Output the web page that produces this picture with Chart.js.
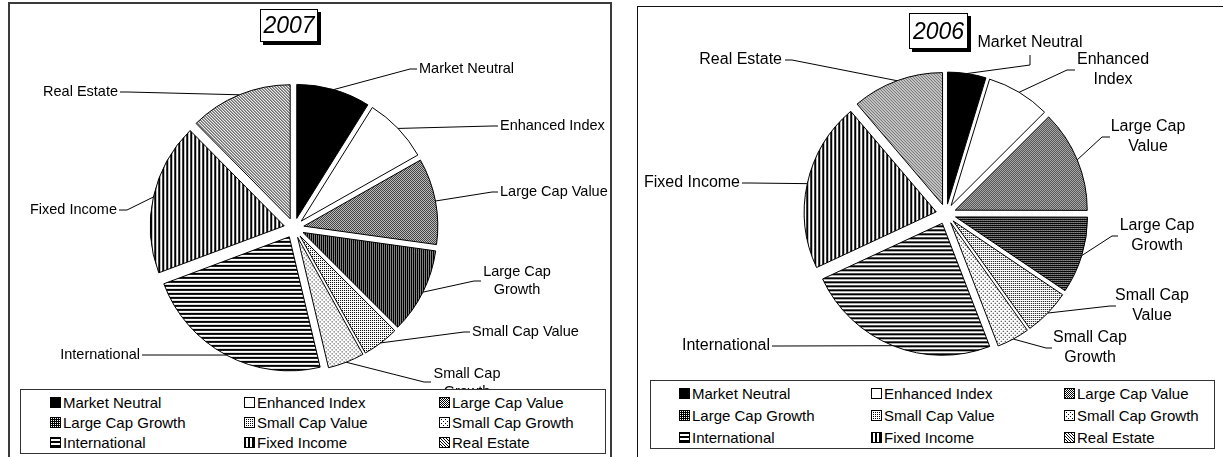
<!DOCTYPE html>
<html>
<head>
<meta charset="utf-8">
<script src="https://cdn.jsdelivr.net/npm/chart.js@4/dist/chart.umd.min.js"></script>
<style>
  body { margin: 0; width: 1223px; height: 457px; overflow: hidden; background: #fff; font-family: "Liberation Sans", Arial, sans-serif; }
  .panel { position: absolute; box-sizing: border-box; }
  #panel1 { left: 8px; top: 2px; width: 604px; height: 470px; border: 2px solid #3a3a3a; }
  #panel2 { left: 637px; top: 6px; width: 600px; height: 470px; border: 1.5px solid #111; }
  canvas.pie { position: absolute; top: 0; }
  .title { position: absolute; border: 1px solid #000; background: #fff; box-shadow: 3px 3px 0 #000;
           font-style: italic; font-size: 23px; text-align: center; box-sizing: border-box; }
  .legend { position: absolute; border: 1px solid #333; background: #fff; box-sizing: border-box; }
  .item { position: absolute; font-size: 15px; white-space: nowrap; line-height: 15px; }
  .item canvas { position: absolute; left: 0; top: 2px; }
  .item span { position: absolute; left: 13px; top: 0; }
</style>
</head>
<body>
<div class="panel" id="panel1"></div>
<div class="panel" id="panel2"></div>
<canvas class="pie" id="pie2007" width="620" height="457" style="left:0"></canvas>
<canvas class="pie" id="pie2006" width="603" height="457" style="left:620px"></canvas>
<div class="title" style="left:260px;top:9px;width:58px;height:33px;line-height:31px">2007</div>
<div class="title" style="left:909px;top:13px;width:59px;height:36px;line-height:34px">2006</div>
<div class="legend" id="legend2007" style="left:20px;top:389px;width:586px;height:65px"></div>
<div class="legend" id="legend2006" style="left:650px;top:380px;width:565px;height:69px"></div>
<script>
// data
const categories = ['Market Neutral', 'Enhanced Index', 'Large Cap Value', 'Large Cap Growth',
  'Small Cap Value', 'Small Cap Growth', 'International', 'Fixed Income', 'Real Estate'];
const values2007 = [8.9, 7.9, 10.4, 10.3, 4.4, 4.4, 23.0, 18.3, 12.4];
const values2006 = [4.7, 7.8, 12.5, 9.4, 5.7, 4.0, 23.9, 20.7, 11.2];
const fillKinds = ['solid', 'white', 'check', 'dark', 'light', 'dots', 'hstripe', 'vstripe', 'diag'];

// label placement (canvas coords): x,y = text anchor, end/via = leader line near the label
const labels2007 = [
  { lines: ['Market Neutral'], x: 419, y: 69, align: 'left', via: [410, 69], end: [417, 69] },
  { lines: ['Enhanced Index'], x: 500, y: 126, align: 'left', via: [492, 126], end: [498, 126] },
  { lines: ['Large Cap Value'], x: 500, y: 192, align: 'left', via: [492, 192], end: [498, 192] },
  { lines: ['Large Cap', 'Growth'], x: 517, y: 281, align: 'center', via: [474, 281], end: [481, 281] },
  { lines: ['Small Cap Value'], x: 472, y: 332, align: 'left', via: [464, 332], end: [470, 332] },
  { lines: ['Small Cap', 'Growth'], x: 467, y: 383, align: 'center', via: [424, 382], end: [431, 382] },
  { lines: ['International'], x: 140, y: 355, align: 'right', via: [150, 355], end: [142, 355] },
  { lines: ['Fixed Income'], x: 117, y: 210, align: 'right', via: [127, 210], end: [119, 210] },
  { lines: ['Real Estate'], x: 118, y: 92, align: 'right', via: [128, 92], end: [120, 92] }
];
const labels2006 = [
  { lines: ['Market Neutral'], x: 410, y: 43, align: 'center', via: [410, 65], end: [410, 55] },
  { lines: ['Enhanced', 'Index'], x: 493, y: 70, align: 'center', via: [447, 70], end: [455, 70] },
  { lines: ['Large Cap', 'Value'], x: 528, y: 137, align: 'center', via: [482, 137], end: [490, 137] },
  { lines: ['Large Cap', 'Growth'], x: 537, y: 236, align: 'center', via: [492, 236], end: [498, 236] },
  { lines: ['Small Cap', 'Value'], x: 532, y: 306, align: 'center', via: [490, 306], end: [496, 306] },
  { lines: ['Small Cap', 'Growth'], x: 470, y: 348, align: 'center', via: [426, 348], end: [432, 348] },
  { lines: ['International'], x: 150, y: 346, align: 'right', via: [160, 346], end: [152, 346] },
  { lines: ['Fixed Income'], x: 120, y: 183, align: 'right', via: [130, 183], end: [122, 183] },
  { lines: ['Real Estate'], x: 162, y: 60, align: 'right', via: [172, 60], end: [165, 60] }
];

// black & white fill patterns like the old excel charts
function makeFill(kind) {
  if (kind === 'solid') return '#000';
  if (kind === 'white') return '#fff';
  const size = { check: 2, dark: 2, light: 2, dots: 4, hstripe: 4, vstripe: 4, diag: 3 }[kind];
  const c = document.createElement('canvas');
  c.width = c.height = size;
  const g = c.getContext('2d');
  g.fillStyle = '#fff';
  g.fillRect(0, 0, size, size);
  g.fillStyle = '#000';
  const px = (x, y) => g.fillRect(x, y, 1, 1);
  if (kind === 'check') { px(0, 0); px(1, 1); }
  if (kind === 'dark') { px(0, 0); px(1, 0); px(0, 1); }
  if (kind === 'light') { px(0, 0); }
  if (kind === 'dots') { px(0, 0); px(2, 2); }
  if (kind === 'hstripe') { g.fillRect(0, 0, 4, 2); }
  if (kind === 'vstripe') { g.fillRect(0, 0, 2, 4); }
  if (kind === 'diag') { px(0, 0); px(1, 1); px(2, 2); }
  return g.createPattern(c, 'repeat');
}
const fills = fillKinds.map(makeFill);

// pulls every slice out from the centre
function explodePlugin(dist) {
  return {
    id: 'explode',
    afterDatasetUpdate(chart) {
      chart.getDatasetMeta(0).data.forEach(arc => {
        if (arc._exploded) return;
        const base = arc.draw;
        arc.draw = function (ctx, area) {
          const mid = (this.startAngle + this.endAngle) / 2;
          ctx.save();
          ctx.translate(Math.cos(mid) * dist, Math.sin(mid) * dist);
          base.call(this, ctx, area);
          ctx.restore();
        };
        arc._exploded = true;
      });
    }
  };
}

// leader lines + category labels
function leaderPlugin(layout, dist, fontSize, lineGap) {
  return {
    id: 'leaders',
    afterDraw(chart) {
      const ctx = chart.ctx;
      ctx.save();
      ctx.strokeStyle = '#000';
      ctx.lineWidth = 1;
      ctx.fillStyle = '#000';
      ctx.font = fontSize + 'px "Liberation Sans", Arial, sans-serif';
      ctx.textBaseline = 'middle';
      chart.getDatasetMeta(0).data.forEach((arc, i) => {
        const L = layout[i];
        const mid = (arc.startAngle + arc.endAngle) / 2;
        const r = arc.outerRadius + dist;
        ctx.beginPath();
        ctx.moveTo(arc.x + Math.cos(mid) * r, arc.y + Math.sin(mid) * r);
        ctx.lineTo(L.via[0], L.via[1]);
        ctx.lineTo(L.end[0], L.end[1]);
        ctx.stroke();
        ctx.textAlign = L.align;
        const top = L.y - (L.lines.length - 1) * lineGap / 2;
        L.lines.forEach((t, k) => ctx.fillText(t, L.x, top + k * lineGap));
      });
      ctx.restore();
    }
  };
}

function makePie(id, values, layout, radius, padding, fontSize, lineGap) {
  const dist = 10;
  return new Chart(document.getElementById(id), {
    type: 'pie',
    data: {
      labels: categories,
      datasets: [{
        data: values,
        backgroundColor: fills,
        borderColor: '#000',
        borderWidth: 1,
        radius: radius
      }]
    },
    options: {
      responsive: false,
      animation: false,
      events: [],
      layout: { padding: padding },
      plugins: { legend: { display: false }, tooltip: { enabled: false } }
    },
    plugins: [explodePlugin(dist), leaderPlugin(layout, dist, fontSize, lineGap)]
  });
}

makePie('pie2007', values2007, labels2007, 134, { left: 144, right: 176, top: 78, bottom: 79 }, 14.5, 18);
makePie('pie2006', values2006, labels2006, 132, { left: 176, right: 127, top: 64, bottom: 93 }, 16, 20);

// legend: 3 columns x 3 rows
function buildLegend(boxId, cols, rows) {
  const box = document.getElementById(boxId);
  categories.forEach((name, i) => {
    const item = document.createElement('div');
    item.className = 'item';
    item.style.left = cols[i % 3] + 'px';
    item.style.top = rows[Math.floor(i / 3)] + 'px';
    const sw = document.createElement('canvas');
    sw.width = sw.height = 11;
    const g = sw.getContext('2d');
    g.fillStyle = fills[i];
    g.fillRect(0, 0, 11, 11);
    g.strokeStyle = '#000';
    g.strokeRect(0.5, 0.5, 10, 10);
    const label = document.createElement('span');
    label.textContent = name;
    item.appendChild(sw);
    item.appendChild(label);
    box.appendChild(item);
  });
}
buildLegend('legend2007', [29, 223, 418], [5, 25, 45]);
buildLegend('legend2006', [28, 220, 413], [5, 27, 49]);
</script>
</body>
</html>
